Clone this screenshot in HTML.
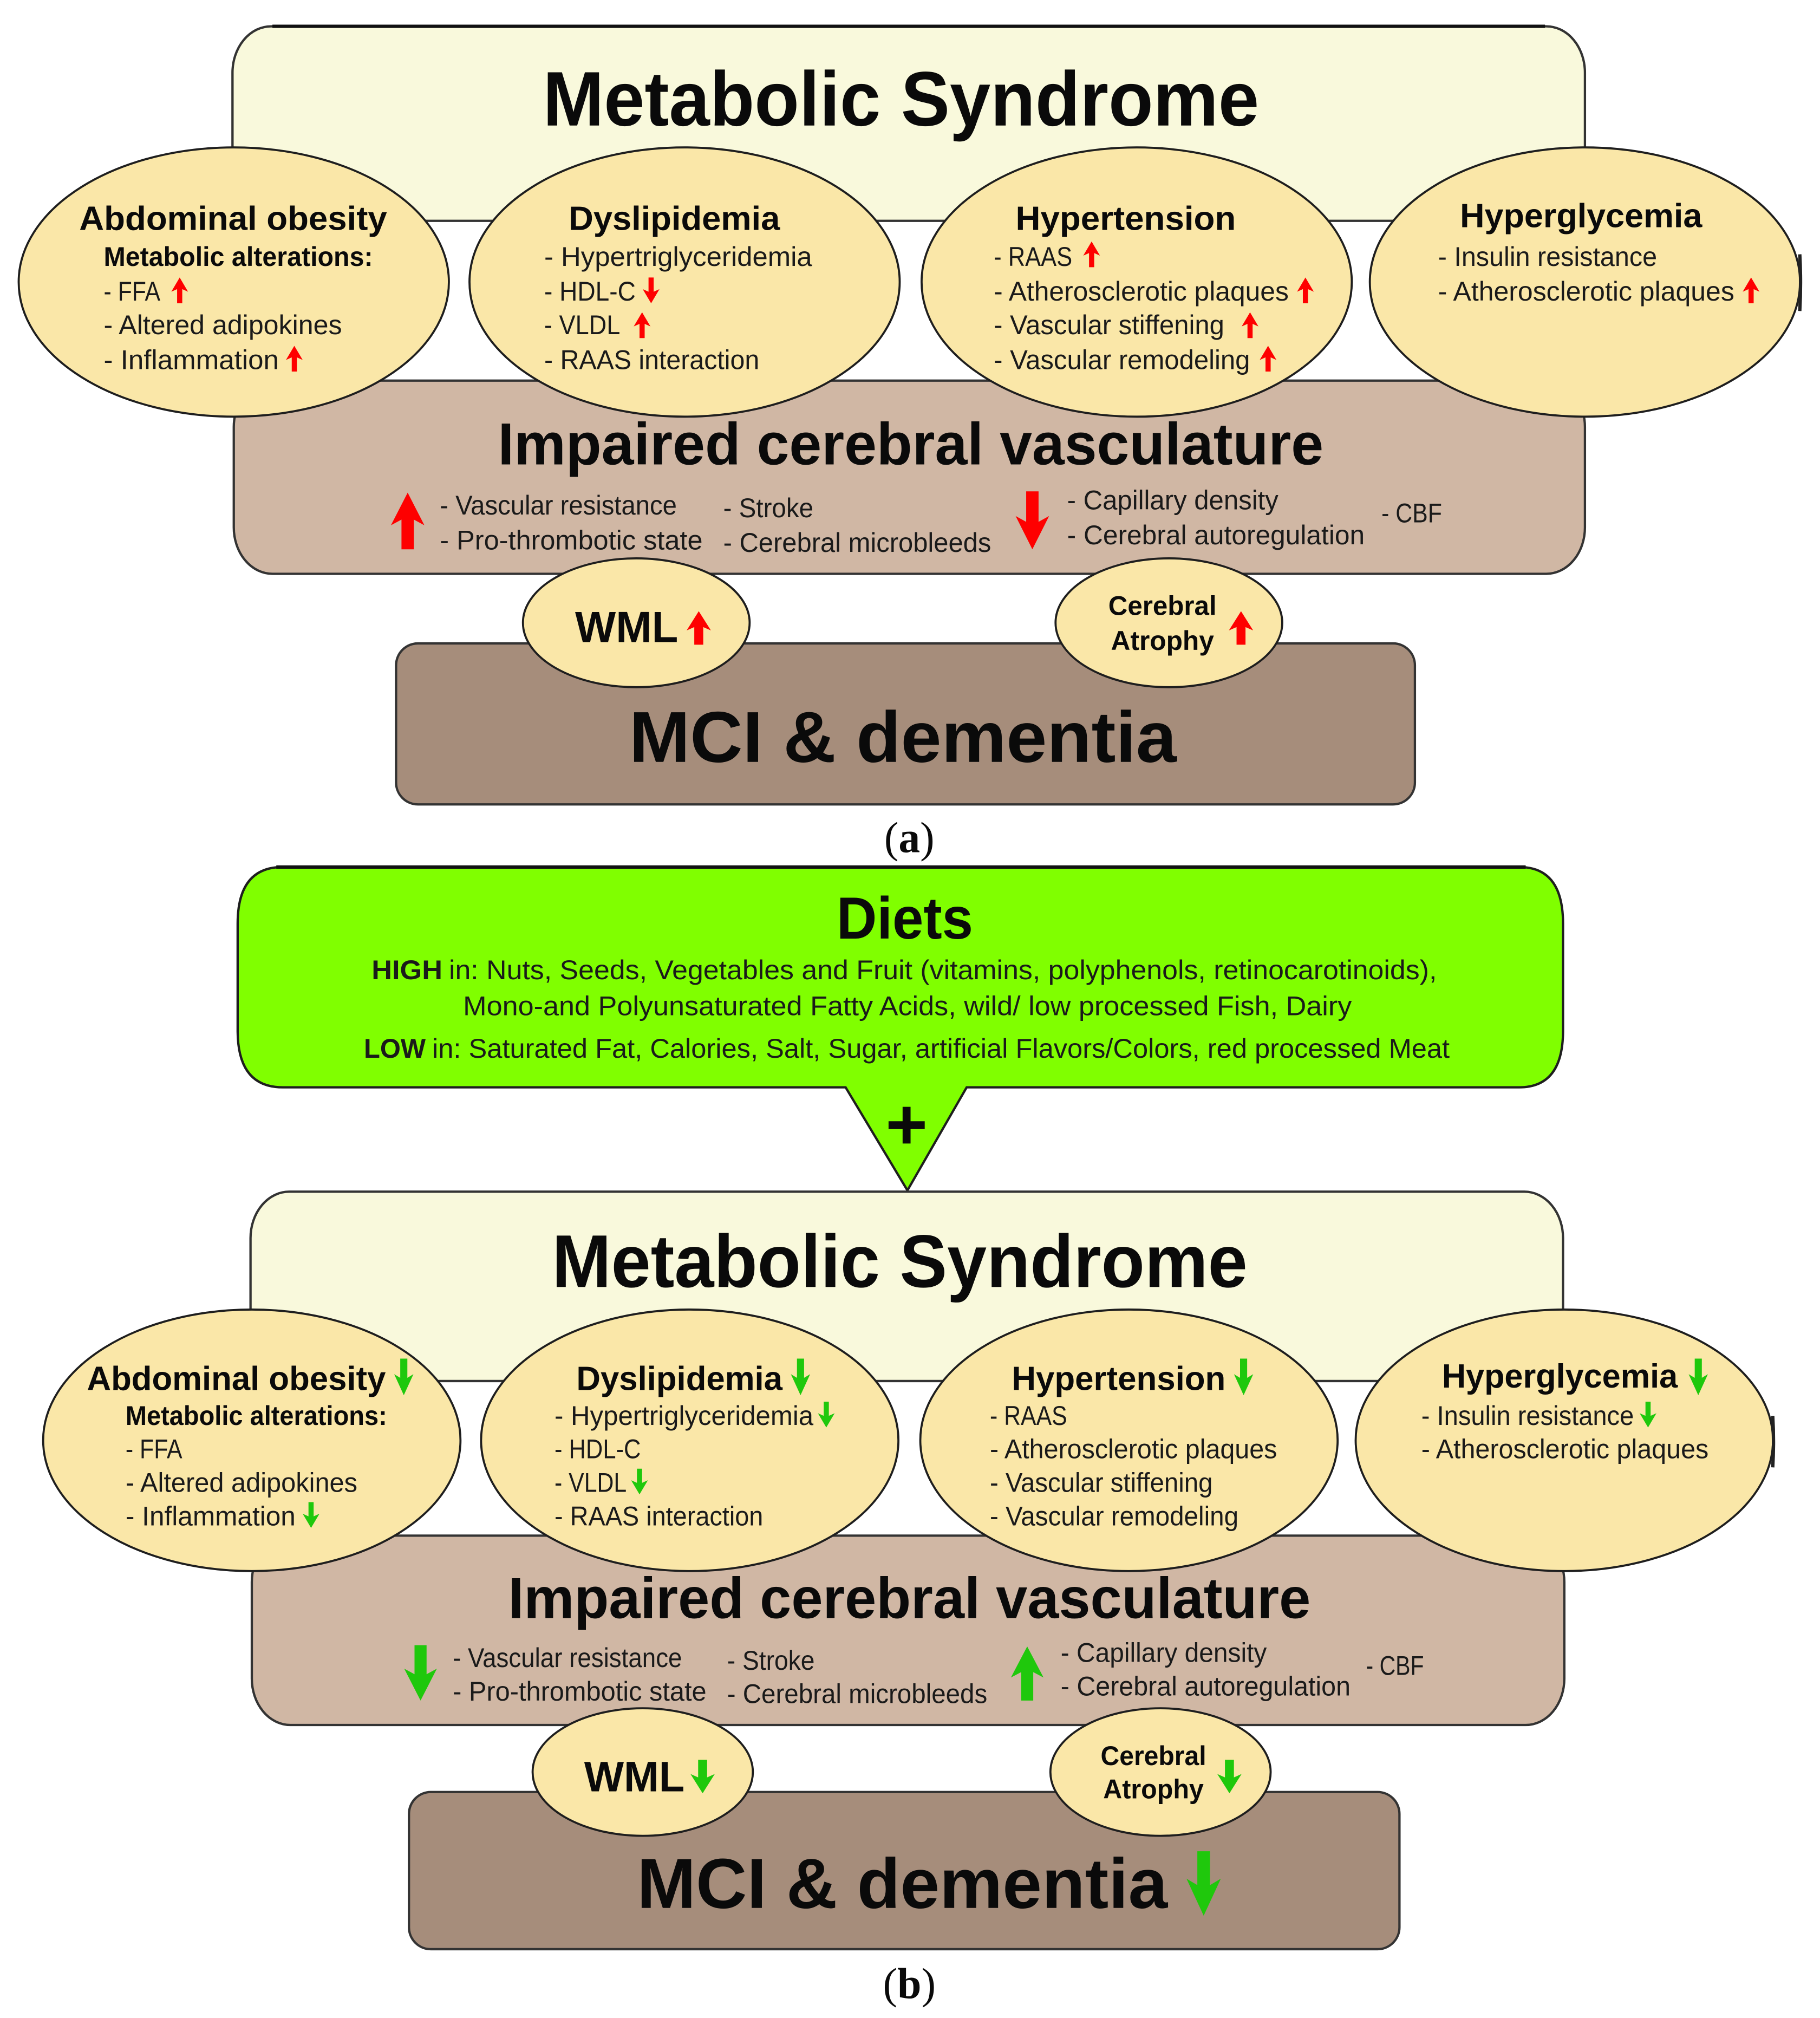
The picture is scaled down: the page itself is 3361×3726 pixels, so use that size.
<!DOCTYPE html>
<html lang="en"><head><meta charset="utf-8"><title>Metabolic Syndrome diagram</title>
<style>
html,body{margin:0;padding:0;background:#fff}
svg{display:block;width:3361px;height:3726px}
text{font-family:"Liberation Sans",sans-serif;fill:#0a0a0a}
.b{font-weight:bold}
.t{font-size:21px;fill:#1a1a1a}
.h{font-size:26px;font-weight:bold}
.m{font-size:21px;font-weight:bold}
.box{stroke:#333;stroke-width:1.8}
.el{fill:#fae7a8;stroke:#1e1e1e;stroke-width:1.6}
.red{fill:#fe0000}
.grn{fill:#1fc80c}
</style></head>
<body>
<svg xmlns="http://www.w3.org/2000/svg" viewBox="0 0 1413 1566.4" width="3361" height="3726">
<defs>
<path id="a" d="M0 0L6.5 11L2 9L2 20L-2 20L-2 9L-6.5 11Z"/>
<path id="A" d="M0 0L6.5 11.5L2.4 9.5L2.4 20L-2.4 20L-2.4 9.5L-6.5 11.5Z"/>
</defs>
<rect width="1413" height="1566.4" fill="#fff"/>

<!-- Panel a -->
<g transform="translate(-0.5,-0.6)">
<rect class="box" x="181" y="21" width="1050" height="151" rx="30" ry="36" fill="#f9f9dc"/>
<line x1="212" y1="21" x2="1200" y2="21" stroke="#111" stroke-width="2.6"/>
<rect class="box" x="182" y="296" width="1049" height="150" rx="30" ry="36" fill="#d0b7a4"/>
<rect class="box" x="308" y="500" width="791" height="125" rx="17" ry="17" fill="#a68d7b"/>
<text class="b" x="422" y="98" font-size="60" textLength="556" lengthAdjust="spacingAndGlyphs">Metabolic Syndrome</text>

<ellipse class="el" cx="182" cy="219.5" rx="167" ry="104.5"/>
<ellipse class="el" cx="532" cy="219.5" rx="167" ry="104.5"/>
<ellipse class="el" cx="883" cy="219.5" rx="167" ry="104.5"/>
<ellipse class="el" cx="1231" cy="219.5" rx="167" ry="104.5"/>
<path d="M1397.800 198Q1399 220 1397.800 242" fill="none" stroke="#222" stroke-width="2.6"/>
<ellipse class="el" cx="494.500" cy="484" rx="88" ry="50"/>
<ellipse class="el" cx="908" cy="484" rx="88" ry="50"/>

<text class="h" x="62" y="179" textLength="239" lengthAdjust="spacingAndGlyphs">Abdominal obesity</text>
<text class="m" x="81" y="207" textLength="209" lengthAdjust="spacingAndGlyphs">Metabolic alterations:</text>
<text class="t" x="81" y="234" textLength="44" lengthAdjust="spacingAndGlyphs">- FFA</text>
<text class="t" x="81" y="260" textLength="185" lengthAdjust="spacingAndGlyphs">- Altered adipokines</text>
<text class="t" x="81" y="287" textLength="136" lengthAdjust="spacingAndGlyphs">- Inflammation</text>
<use href="#a" class="red" transform="translate(140,216)"/>
<use href="#a" class="red" transform="translate(229,269)"/>

<text class="h" x="442" y="179" textLength="164" lengthAdjust="spacingAndGlyphs">Dyslipidemia</text>
<text class="t" x="423" y="207" textLength="208" lengthAdjust="spacingAndGlyphs">- Hypertriglyceridemia</text>
<text class="t" x="423" y="234" textLength="71" lengthAdjust="spacingAndGlyphs">- HDL-C</text>
<text class="t" x="423" y="260" textLength="59" lengthAdjust="spacingAndGlyphs">- VLDL</text>
<text class="t" x="423" y="287" textLength="167" lengthAdjust="spacingAndGlyphs">- RAAS interaction</text>
<use href="#a" class="red" transform="translate(506,236) scale(1,-1)"/>
<use href="#a" class="red" transform="translate(499,243)"/>

<text class="h" x="789" y="179" textLength="171" lengthAdjust="spacingAndGlyphs">Hypertension</text>
<text class="t" x="772" y="207" textLength="61" lengthAdjust="spacingAndGlyphs">- RAAS</text>
<text class="t" x="772" y="234" textLength="229" lengthAdjust="spacingAndGlyphs">- Atherosclerotic plaques</text>
<text class="t" x="772" y="260" textLength="179" lengthAdjust="spacingAndGlyphs">- Vascular stiffening</text>
<text class="t" x="772" y="287" textLength="199" lengthAdjust="spacingAndGlyphs">- Vascular remodeling</text>
<use href="#a" class="red" transform="translate(848,188)"/>
<use href="#a" class="red" transform="translate(1014,216)"/>
<use href="#a" class="red" transform="translate(971,243)"/>
<use href="#a" class="red" transform="translate(985,269)"/>

<text class="h" x="1134" y="177" textLength="188" lengthAdjust="spacingAndGlyphs">Hyperglycemia</text>
<text class="t" x="1117" y="207" textLength="170" lengthAdjust="spacingAndGlyphs">- Insulin resistance</text>
<text class="t" x="1117" y="234" textLength="230" lengthAdjust="spacingAndGlyphs">- Atherosclerotic plaques</text>
<use href="#a" class="red" transform="translate(1360,216)"/>

<text class="b" x="387" y="361" font-size="46" textLength="641" lengthAdjust="spacingAndGlyphs">Impaired cerebral vasculature</text>
<use href="#A" class="red" transform="translate(317,383) scale(2,2.2)"/>
<text class="t" x="342" y="400" textLength="184" lengthAdjust="spacingAndGlyphs">- Vascular resistance</text>
<text class="t" x="342" y="427" textLength="204" lengthAdjust="spacingAndGlyphs">- Pro-thrombotic state</text>
<text class="t" x="562" y="402" textLength="70" lengthAdjust="spacingAndGlyphs">- Stroke</text>
<text class="t" x="562" y="429" textLength="208" lengthAdjust="spacingAndGlyphs">- Cerebral microbleeds</text>
<use href="#A" class="red" transform="translate(802,427) scale(2,-2.25)"/>
<text class="t" x="829" y="396" textLength="164" lengthAdjust="spacingAndGlyphs">- Capillary density</text>
<text class="t" x="829" y="423" textLength="231" lengthAdjust="spacingAndGlyphs">- Cerebral autoregulation</text>
<text class="t" x="1073" y="406" textLength="47" lengthAdjust="spacingAndGlyphs">- CBF</text>

<text class="b" x="447" y="499" font-size="34" textLength="80" lengthAdjust="spacingAndGlyphs">WML</text>
<use href="#A" class="red" transform="translate(543,475) scale(1.45,1.3)"/>
<text class="m" x="861" y="478" textLength="84" lengthAdjust="spacingAndGlyphs">Cerebral</text>
<text class="m" x="863" y="505" textLength="80" lengthAdjust="spacingAndGlyphs">Atrophy</text>
<use href="#A" class="red" transform="translate(964,475) scale(1.45,1.3)"/>

<text class="b" x="489" y="592" font-size="56" textLength="425" lengthAdjust="spacingAndGlyphs">MCI &amp; dementia</text>
<text x="687" y="662" font-size="34" textLength="39" lengthAdjust="spacingAndGlyphs" style="font-family:'Liberation Serif',serif">(<tspan font-weight="bold">a</tspan>)</text>
</g>

<!-- Panel b -->
<g transform="translate(-0.5,-1)">
<path d="M220 674H1180Q1214 674 1214 718V801Q1214 845 1180 845H751L705 925L657 845H220Q185 845 185 801V718Q185 674 220 674Z" fill="#80ff00" stroke="#1e1e1e" stroke-width="1.8"/>
<line x1="215" y1="674" x2="1185" y2="674" stroke="#111" stroke-width="2.6"/>
<text class="b" x="650" y="729.5" font-size="46" textLength="106" lengthAdjust="spacingAndGlyphs">Diets</text>
<text x="289" y="761" class="t"><tspan font-weight="bold" textLength="55" lengthAdjust="spacingAndGlyphs">HIGH</tspan></text>
<text class="t" x="349" y="761" textLength="767" lengthAdjust="spacingAndGlyphs">in: Nuts, Seeds, Vegetables and Fruit (vitamins, polyphenols, retinocarotinoids),</text>
<text class="t" x="360" y="789" textLength="690" lengthAdjust="spacingAndGlyphs">Mono-and Polyunsaturated Fatty Acids, wild/ low processed Fish, Dairy</text>
<text x="283" y="822" class="t"><tspan font-weight="bold" textLength="48" lengthAdjust="spacingAndGlyphs">LOW</tspan></text>
<text class="t" x="336" y="822" textLength="790" lengthAdjust="spacingAndGlyphs">in: Saturated Fat, Calories, Salt, Sugar, artificial Flavors/Colors, red processed Meat</text>
<text class="b" x="688" y="893" font-size="56">+</text>

<rect class="box" x="195" y="926" width="1019" height="147" rx="30" ry="36" fill="#f9f9dc"/>
<rect class="box" x="196" y="1193" width="1019" height="147" rx="30" ry="36" fill="#d0b7a4"/>
<rect class="box" x="318" y="1392" width="769" height="122" rx="17" ry="17" fill="#a68d7b"/>
<text class="b" x="429" y="1000" font-size="58" textLength="540" lengthAdjust="spacingAndGlyphs">Metabolic Syndrome</text>

<ellipse class="el" cx="196" cy="1119" rx="162" ry="101.500"/>
<ellipse class="el" cx="536" cy="1119" rx="162" ry="101.500"/>
<ellipse class="el" cx="877" cy="1119" rx="162" ry="101.500"/>
<ellipse class="el" cx="1215" cy="1119" rx="162" ry="101.500"/>
<path d="M1376.800 1100Q1378 1120 1376.800 1140" fill="none" stroke="#222" stroke-width="2.6"/>
<ellipse class="el" cx="499.500" cy="1376.500" rx="85.500" ry="49.500"/>
<ellipse class="el" cx="901.500" cy="1376.500" rx="85.500" ry="49.500"/>

<text class="h" x="68" y="1080" font-size="25" textLength="232" lengthAdjust="spacingAndGlyphs">Abdominal obesity</text>
<use href="#A" class="grn" transform="translate(314,1084) scale(1.15,-1.42)"/>
<text class="m" x="98" y="1107" textLength="203" lengthAdjust="spacingAndGlyphs">Metabolic alterations:</text>
<text class="t" x="98" y="1133" textLength="44" lengthAdjust="spacingAndGlyphs">- FFA</text>
<text class="t" x="98" y="1159" textLength="180" lengthAdjust="spacingAndGlyphs">- Altered adipokines</text>
<text class="t" x="98" y="1185" textLength="132" lengthAdjust="spacingAndGlyphs">- Inflammation</text>
<use href="#a" class="grn" transform="translate(242,1187) scale(1,-1)"/>

<text class="h" x="448" y="1080" textLength="160" lengthAdjust="spacingAndGlyphs">Dyslipidemia</text>
<use href="#A" class="grn" transform="translate(622,1084) scale(1.15,-1.42)"/>
<text class="t" x="431" y="1107" textLength="201" lengthAdjust="spacingAndGlyphs">- Hypertriglyceridemia</text>
<use href="#a" class="grn" transform="translate(642,1109) scale(1,-1)"/>
<text class="t" x="431" y="1133" textLength="67" lengthAdjust="spacingAndGlyphs">- HDL-C</text>
<text class="t" x="431" y="1159" textLength="56" lengthAdjust="spacingAndGlyphs">- VLDL</text>
<use href="#a" class="grn" transform="translate(497,1161) scale(1,-1)"/>
<text class="t" x="431" y="1185" textLength="162" lengthAdjust="spacingAndGlyphs">- RAAS interaction</text>

<text class="h" x="786" y="1080" textLength="166" lengthAdjust="spacingAndGlyphs">Hypertension</text>
<use href="#A" class="grn" transform="translate(966,1084) scale(1.15,-1.42)"/>
<text class="t" x="769" y="1107" textLength="60" lengthAdjust="spacingAndGlyphs">- RAAS</text>
<text class="t" x="769" y="1133" textLength="223" lengthAdjust="spacingAndGlyphs">- Atherosclerotic plaques</text>
<text class="t" x="769" y="1159" textLength="173" lengthAdjust="spacingAndGlyphs">- Vascular stiffening</text>
<text class="t" x="769" y="1185" textLength="193" lengthAdjust="spacingAndGlyphs">- Vascular remodeling</text>

<text class="h" x="1120" y="1078" textLength="183" lengthAdjust="spacingAndGlyphs">Hyperglycemia</text>
<use href="#A" class="grn" transform="translate(1319,1084) scale(1.15,-1.42)"/>
<text class="t" x="1104" y="1107" textLength="165" lengthAdjust="spacingAndGlyphs">- Insulin resistance</text>
<use href="#a" class="grn" transform="translate(1280,1109) scale(1,-1)"/>
<text class="t" x="1104" y="1133" textLength="223" lengthAdjust="spacingAndGlyphs">- Atherosclerotic plaques</text>

<text class="b" x="395" y="1257" font-size="45" textLength="623" lengthAdjust="spacingAndGlyphs">Impaired cerebral vasculature</text>
<use href="#A" class="grn" transform="translate(327,1321) scale(1.95,-2.15)"/>
<text class="t" x="352" y="1295" textLength="178" lengthAdjust="spacingAndGlyphs">- Vascular resistance</text>
<text class="t" x="352" y="1321" textLength="197" lengthAdjust="spacingAndGlyphs">- Pro-thrombotic state</text>
<text class="t" x="565" y="1297" textLength="68" lengthAdjust="spacingAndGlyphs">- Stroke</text>
<text class="t" x="565" y="1323" textLength="202" lengthAdjust="spacingAndGlyphs">- Cerebral microbleeds</text>
<use href="#A" class="grn" transform="translate(798,1279) scale(1.95,2.1)"/>
<text class="t" x="824" y="1291" textLength="160" lengthAdjust="spacingAndGlyphs">- Capillary density</text>
<text class="t" x="824" y="1317" textLength="225" lengthAdjust="spacingAndGlyphs">- Cerebral autoregulation</text>
<text class="t" x="1061" y="1301" textLength="45" lengthAdjust="spacingAndGlyphs">- CBF</text>

<text class="b" x="454" y="1391.500" font-size="33" textLength="78" lengthAdjust="spacingAndGlyphs">WML</text>
<use href="#A" class="grn" transform="translate(546,1393) scale(1.45,-1.3)"/>
<text class="m" x="855" y="1371" textLength="82" lengthAdjust="spacingAndGlyphs">Cerebral</text>
<text class="m" x="857" y="1397" textLength="78" lengthAdjust="spacingAndGlyphs">Atrophy</text>
<use href="#A" class="grn" transform="translate(955,1393) scale(1.45,-1.3)"/>

<text class="b" x="495" y="1482" font-size="55" textLength="412" lengthAdjust="spacingAndGlyphs">MCI &amp; dementia</text>
<use href="#A" class="grn" transform="translate(935,1488) scale(2.05,-2.5)"/>
<text x="686" y="1552" font-size="34" textLength="41" lengthAdjust="spacingAndGlyphs" style="font-family:'Liberation Serif',serif">(<tspan font-weight="bold">b</tspan>)</text>
</g>
</svg>
</body></html>
